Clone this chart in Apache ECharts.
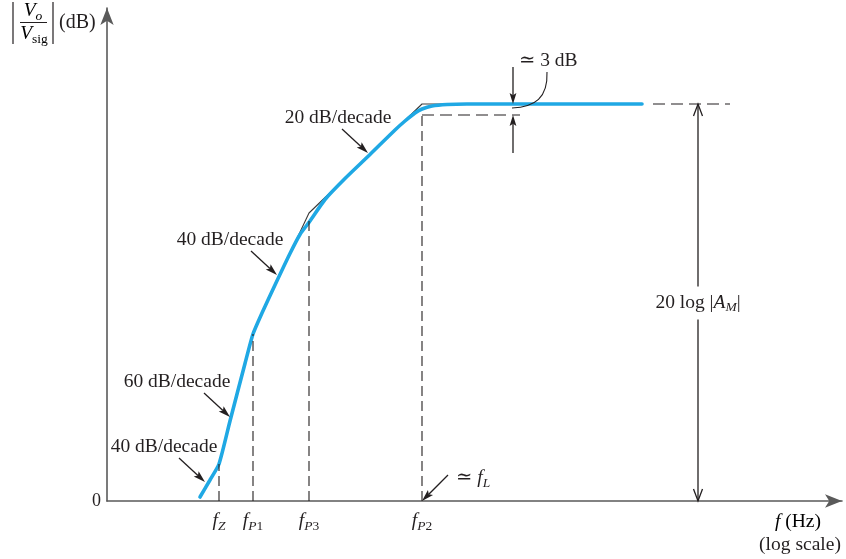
<!DOCTYPE html>
<html>
<head>
<meta charset="utf-8">
<script src="https://cdn.jsdelivr.net/npm/echarts@6/dist/echarts.min.js"></script>
<style>
  html, body { margin: 0; padding: 0; background: #fff; }
  #chart { width: 846px; height: 559px; }
</style>
</head>
<body>
<div id="chart"></div>
<script>
// Horizontal axis: log10(f) in decades. Vertical axis: magnitude in dB.
const breakNames = ['Z', 'P1', 'P3', 'P2'];
const breakLogF = [1.12, 1.46, 2.02, 3.15];
const breakDashTopDb = [7.4, 33.4, 56.0, 77.2];

// Straight-line (asymptotic) magnitude
const asymLogF = [0.93, 1.12, 1.46, 2.02, 3.15, 5.35];
const asymDb = [0.8, 7.4, 33.8, 57.6, 79.4, 79.4];

// Actual magnitude response
const respLogF = [0.93, 1.03, 1.12, 1.23, 1.38, 1.46, 1.55, 1.68, 1.83, 1.93, 2.03, 2.18, 2.38, 2.63, 2.88, 2.98, 3.08, 3.15, 3.25, 3.40, 3.60, 5.35];
const respDb = [0.8, 4.2, 7.4, 16.0, 27.5, 33.4, 37.6, 43.2, 49.5, 53.3, 56.0, 60.3, 64.5, 69.3, 74.2, 76.0, 77.6, 78.4, 79.0, 79.3, 79.4, 79.4];

const midbandDb = 79.4;     // 20 log |A_M|
const cornerDb = 77.2;      // response at f_P2, about 3 dB down
const slopeValues = [40, 60, 40, 20];      // dB/decade
const slopeAtLogF = [0.98, 1.23, 1.70, 2.61];
const slopeAtDb = [3.8, 16.8, 45.2, 69.6];

// Where the annotation devices stand on the frequency axis
const threeDbLogF = 4.06;
const gainArrowLogF = 5.91;
const midbandDashFrom = 5.46;
const midbandDashTo = 6.23;
const cornerDashTo = 4.13;

const INK = '#231f20';
const BLUE = '#1fa8e4';
const SERIF = '"Liberation Serif", "Times New Roman", "DejaVu Serif", serif';
const FS = 19.5;     // body text size
const SUB = 13.5;    // subscript size

const pair = (xs, ys) => xs.map((x, i) => [x, ys[i]]);

const richFont = {
  i: { fontFamily: SERIF, fontStyle: 'italic', fontSize: FS, lineHeight: 24, color: INK },
  r: { fontFamily: SERIF, fontSize: FS, lineHeight: 24, color: INK },
  si: { fontFamily: SERIF, fontStyle: 'italic', fontSize: SUB, lineHeight: 13, verticalAlign: 'bottom', color: INK },
  sr: { fontFamily: SERIF, fontSize: SUB, lineHeight: 13, verticalAlign: 'bottom', color: INK }
};

function breakLabel(value) {
  let k = 0;
  breakLogF.forEach((v, i) => { if (Math.abs(v - value) < Math.abs(breakLogF[k] - value)) k = i; });
  const name = breakNames[k];
  const letter = name.charAt(0);
  const digits = name.slice(1);
  return '{i|f}{si|' + letter + '}' + (digits ? '{sr|' + digits + '}' : '');
}

// Annotation layer: arrows, dashed guides and notes placed through the axes
function renderNotes(params, api) {
  const P = (x, y) => api.coord([x, y]);
  const kids = [];
  const seg = (a, b, w, dash) => ({
    type: 'line',
    shape: { x1: a[0], y1: a[1], x2: b[0], y2: b[1] },
    style: { stroke: INK, lineWidth: w || 1.2, lineDash: dash || null, fill: null }
  });
  const unit = (from, to) => {
    const dx = to[0] - from[0], dy = to[1] - from[1];
    const d = Math.hypot(dx, dy);
    return [dx / d, dy / d];
  };
  // filled, slightly notched arrowhead with its tip at `to`
  const solidArrow = (from, to, len, half) => {
    len = len || 12; half = half || 3.6;
    const [ux, uy] = unit(from, to);
    const bx = to[0] - ux * len, by = to[1] - uy * len;
    const nx = -uy, ny = ux;
    const notch = [to[0] - ux * len * 0.8, to[1] - uy * len * 0.8];
    kids.push(seg(from, notch, 1.3));
    kids.push({
      type: 'polygon',
      shape: { points: [to, [bx + nx * half, by + ny * half], notch, [bx - nx * half, by - ny * half]] },
      style: { fill: INK }
    });
  };
  // open chevron arrowhead with its tip at `to`
  const openArrow = (from, to, len, half) => {
    len = len || 12; half = half || 4.5;
    const [ux, uy] = unit(from, to);
    const bx = to[0] - ux * len, by = to[1] - uy * len;
    const nx = -uy, ny = ux;
    kids.push(seg(from, to, 1.3));
    kids.push({
      type: 'polyline',
      shape: { points: [[bx + nx * half, by + ny * half], to, [bx - nx * half, by - ny * half]] },
      style: { stroke: INK, lineWidth: 1.3, fill: null }
    });
  };
  const note = (x, y, text, align) => kids.push({
    type: 'text', x: x, y: y,
    style: { text: text, rich: richFont, align: align || 'center', verticalAlign: 'middle',
             fontFamily: SERIF, fontSize: FS, fill: INK }
  });

  // dashed guides up from each break frequency
  breakLogF.forEach((f, i) => kids.push(seg(P(f, 0), P(f, breakDashTopDb[i]), 1.1, [10, 5])));
  // -3 dB guide and the mid-band continuation
  kids.push(seg(P(breakLogF[3], cornerDb), P(cornerDashTo, cornerDb), 1.1, [12, 6]));
  kids.push(seg(P(midbandDashFrom, midbandDb), P(midbandDashTo, midbandDb), 1.1, [12, 6]));

  // slope notes
  slopeValues.forEach((s, i) => {
    const tip = P(slopeAtLogF[i], slopeAtDb[i]);
    solidArrow([tip[0] - 26, tip[1] - 24], tip);
    const dx = [-41, -53, -47, -30][i];
    note(tip[0] + dx, tip[1] - 35, '{r|' + s + ' dB/decade}');
  });

  // ≃ 3 dB marker
  const top = P(threeDbLogF, midbandDb);
  const bot = P(threeDbLogF, cornerDb);
  solidArrow([top[0], top[1] - 37], top, 11, 3.4);
  solidArrow([bot[0], bot[1] + 38], bot, 11, 3.4);
  kids.push({
    type: 'bezierCurve',
    shape: { x1: top[0] + 34, y1: top[1] - 32, cpx1: top[0] + 35, cpy1: top[1] - 6,
             cpx2: top[0] + 22, cpy2: top[1] + 3, x2: top[0] - 1, y2: top[1] + 4 },
    style: { stroke: INK, lineWidth: 1.1, fill: null }
  });
  note(top[0] + 6, top[1] - 43, '{r|≃ 3 dB}', 'left');

  // ≃ f_L marker
  const fl = P(breakLogF[3], 0);
  solidArrow([fl[0] + 26, fl[1] - 26], fl, 12, 3.6);
  note(fl[0] + 34, fl[1] - 23, '{r|≃ }{i|f}{si|L}', 'left');

  // 20 log |A_M| span
  const gTop = P(gainArrowLogF, midbandDb);
  const gBot = P(gainArrowLogF, 0);
  const gMid = (gTop[1] + gBot[1]) / 2;
  openArrow([gTop[0], gMid - 16], gTop, 12, 4.5);
  openArrow([gBot[0], gMid + 17], gBot, 12, 4.5);
  note(gTop[0], gMid, '{r|20 log |}{i|A}{si|M}{r||}');

  return { type: 'group', children: kids };
}

const chart = echarts.init(document.getElementById('chart'), null, { renderer: 'canvas' });

chart.setOption({
  animation: false,
  backgroundColor: '#ffffff',
  grid: { left: 107, right: 4, top: 8, bottom: 58 },
  xAxis: {
    type: 'value', min: 0, max: 7.35,
    axisLine: { lineStyle: { color: '#5a5a5a', width: 1.6 }, symbol: ['none', 'arrow'], symbolSize: [10, 17] },
    axisTick: { show: false },
    splitLine: { show: false },
    axisLabel: {
      customValues: breakLogF,
      formatter: breakLabel,
      margin: 8,
      rich: richFont
    }
  },
  yAxis: {
    type: 'value', min: 0, max: 98.6,
    axisLine: { lineStyle: { color: '#5a5a5a', width: 1.6 }, symbol: ['none', 'arrow'], symbolSize: [10, 17] },
    axisTick: { show: false },
    splitLine: { show: false },
    axisLabel: {
      customValues: [0],
      margin: 6,
      color: INK, fontFamily: SERIF, fontSize: 18
    }
  },
  series: [
    {
      name: 'asymptotes', type: 'line', data: pair(asymLogF, asymDb),
      symbol: 'none', lineStyle: { color: '#3a3a3a', width: 1.1 }, z: 2
    },
    {
      name: 'response', type: 'line', data: pair(respLogF, respDb),
      symbol: 'none', smooth: 0.2, lineStyle: { color: BLUE, width: 3.6, cap: 'round' }, z: 3
    },
    {
      name: 'notes', type: 'custom', data: [[0, 0]], renderItem: renderNotes,
      silent: true, z: 4
    }
  ],
  graphic: [
    // |Vo / Vsig| (dB) heading on the magnitude axis
    { type: 'line', shape: { x1: 13, y1: 2, x2: 13, y2: 44 }, style: { stroke: INK, lineWidth: 1.2 } },
    { type: 'line', shape: { x1: 53, y1: 2, x2: 53, y2: 44 }, style: { stroke: INK, lineWidth: 1.2 } },
    { type: 'line', shape: { x1: 20, y1: 22.5, x2: 47, y2: 22.5 }, style: { stroke: INK, lineWidth: 1 } },
    { type: 'text', x: 33, y: 11, style: { text: '{i|V}{si|o}', rich: richFont, align: 'center', verticalAlign: 'middle' } },
    { type: 'text', x: 34, y: 34, style: { text: '{i|V}{sr|sig}', rich: richFont, align: 'center', verticalAlign: 'middle' } },
    { type: 'text', x: 59, y: 23, style: { text: '(dB)', fontFamily: SERIF, fontSize: 20, fill: INK, align: 'left', verticalAlign: 'middle' } },
    // frequency axis name
    { type: 'text', x: 798, y: 522, style: { text: '{i|f}{r| (Hz)}', rich: richFont, align: 'center', verticalAlign: 'middle' } },
    { type: 'text', x: 800, y: 545, style: { text: '(log scale)', fontFamily: SERIF, fontSize: FS, fill: INK, align: 'center', verticalAlign: 'middle' } }
  ]
});
</script>
</body>
</html>
